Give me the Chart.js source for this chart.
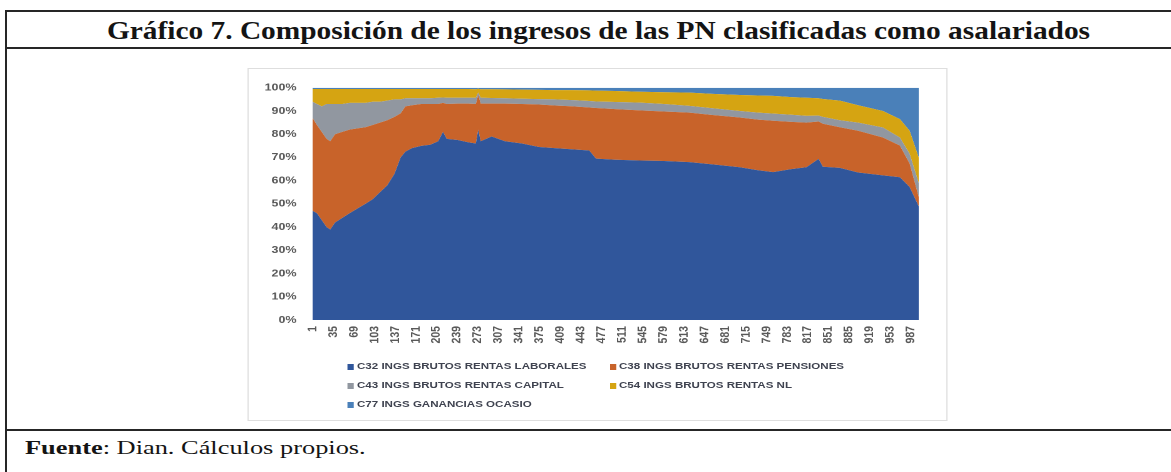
<!DOCTYPE html>
<html>
<head>
<meta charset="utf-8">
<script src="https://cdn.jsdelivr.net/npm/chart.js@4.4.1/dist/chart.umd.min.js"></script>
<style>
  html, body { margin:0; padding:0; background:#fff; width:1171px; height:472px; overflow:hidden; position:relative; }
  .line { position:absolute; background:#262626; }
  .fit { position:absolute; white-space:nowrap; display:inline-block; transform-origin:0 0; color:#141414; }
  #title { left:107px; top:17px; line-height:25px; font:bold 25px "Liberation Serif", "Times New Roman", serif; }
  #fuente { left:25px; top:438px; line-height:18px; font:18px "Liberation Serif", "Times New Roman", serif; }
  #stage { position:absolute; left:0; top:0; width:937px; height:472px; transform:scaleX(1.25); transform-origin:0 0; }
  #chartbox { position:absolute; left:198.4px; top:68px; width:559.2px; height:353px; border:1px solid #dedede; box-sizing:border-box; }
  #cwrap { position:absolute; left:0; top:0; width:557.2px; height:281px; }
  .lg { position:absolute; font:bold 9.25px "Liberation Sans", Arial, sans-serif; color:#3f4350; white-space:nowrap; line-height:11px; }
  .lg i { display:inline-block; width:4.8px; height:6px; margin-right:2.4px; vertical-align:-0.5px; }
</style>
</head>
<body>
<div class="line" style="left:5px; top:9.5px; width:1171px; height:2px;"></div>
<div class="line" style="left:5px; top:46.5px; width:1171px; height:2.5px;"></div>
<div class="line" style="left:5px; top:429px; width:1171px; height:2px;"></div>
<div class="line" style="left:5px; top:9.5px; width:2px; height:463px;"></div>
<span id="title" class="fit">Gráfico 7. Composición de los ingresos de las PN clasificadas como asalariados</span>
<span id="fuente" class="fit"><b>Fuente</b>: Dian. Cálculos propios.</span>
<div id="stage">
  <div id="chartbox"><div id="cwrap"><canvas id="c"></canvas></div></div>
  <div id="legend"></div>
</div>
<script>
// ---- data (share of each income type, %) ----
const positions = [1,8,16,24,30,38,50,62,75,88,100,112,124,136,146,154,165,180,195,208,216,222,240,258,270,274,278,296,318,346,374,400,430,457,468,500,540,580,622,660,705,735,760,790,815,835,842,870,900,941,969,985,1000];
const c32 = [47,46,43,40,39,42,44,46,48,50,52,55,58,63,70,72.5,74,75,75.5,77,81,78,77.5,76.5,76,82,77,79,77,76,74.5,74,73.5,73,69.5,69,68.7,68.5,68,67,65.8,64.5,63.7,65,65.8,69.4,66,65.5,63.5,62.3,61.5,57.3,49];
const c38 = [40,38,38,38,38,38,37,36,34.5,33,32,30,28,24.5,19,19.5,18.5,18,17.5,16,12.5,15,15.7,16.7,17,15,16.2,14.2,16.2,17,18.3,18.4,18.5,18.5,21.8,21.8,21.6,21.3,21.3,21.3,21.4,21.8,22.1,20.3,19.2,16.1,18.5,17.5,18,16.3,13.6,10.1,4];
const c43 = [7,9,11,15,16,13,12,11.5,11,10.5,10,9,8.5,7.5,6,3.5,3,2.5,2.5,2.7,2.3,2.7,2.5,2.5,2.7,1,2.5,2.4,2.3,2.3,2.3,2.6,2.7,2.8,2.8,3.1,3.3,3.2,2.9,2.9,2.8,3,3.1,3.1,2.9,2.5,3,3,3.5,4.3,3.5,4.2,6];
const c54 = [5.5,6.5,7.5,6.5,6.5,6.5,6.5,6,6,6,5.5,5.5,5,4.5,4.5,4,4,4,4,3.8,3.7,3.8,3.8,3.8,3.7,1.6,3.7,3.8,3.8,3.9,4,4,4.3,4.6,4.7,4.7,4.7,5.1,5.7,6.2,6.9,7.4,7.6,7.6,7.8,7.5,7.7,8.5,7.5,7.1,7.9,9.9,11];
const c77 = [0.5,0.5,0.5,0.5,0.5,0.5,0.5,0.5,0.5,0.5,0.5,0.5,0.5,0.5,0.5,0.5,0.5,0.5,0.5,0.5,0.5,0.5,0.5,0.5,0.6,0.4,0.6,0.6,0.7,0.8,0.9,1,1,1.1,1.2,1.4,1.7,1.9,2.1,2.6,3.1,3.3,3.5,4,4.3,4.5,4.8,5.5,7.5,10,13.5,18.5,30];
const seriesNames = ["C32 INGS BRUTOS RENTAS LABORALES","C38 INGS BRUTOS RENTAS PENSIONES","C43 INGS BRUTOS RENTAS CAPITAL","C54 INGS BRUTOS RENTAS NL","C77 INGS GANANCIAS OCASIO"];
const xTickLabels = [1,35,69,103,137,171,205,239,273,307,341,375,409,443,477,511,545,579,613,647,681,715,749,783,817,851,885,919,953,987];
const yTickLabels = [0,10,20,30,40,50,60,70,80,90,100];
// ----------------------------------------------------------------------
const colors = ["#30569b","#c8632a","#9197a0","#d5a412","#4a80b9"];
const seriesValues = [c32,c38,c43,c54,c77];

// fit document texts to the widths they take in the reference
function fitWidth(id, target) {
  const el = document.getElementById(id);
  const w = el.offsetWidth;
  el.style.transform = 'scaleX(' + (target / w) + ')';
}
fitWidth('title', 983);
fitWidth('fuente', 340);

const datasets = seriesValues.map((arr, k) => ({
  label: seriesNames[k],
  data: positions.map((x, i) => ({ x: x, y: arr[i] })),
  backgroundColor: colors[k],
  borderColor: colors[k],
  borderWidth: 0,
  pointRadius: 0,
  tension: 0,
  fill: k === 0 ? 'origin' : '-1'
}));

const yFont = { family: "'Liberation Sans', Arial, sans-serif", size: 10, weight: 'bold' };
const xFont = { family: "'Liberation Sans', Arial, sans-serif", size: 10.5, weight: 'bold' };

new Chart(document.getElementById('c'), {
  type: 'line',
  data: { datasets },
  options: {
    responsive: true,
    maintainAspectRatio: false,
    animation: false,
    devicePixelRatio: 2,
    layout: { padding: { left: 0, right: 22.2, top: 17, bottom: 0 } },
    plugins: { legend: { display: false }, tooltip: { enabled: false } },
    scales: {
      x: {
        type: 'linear', min: 1, max: 1000,
        grid: { display: false, drawTicks: false },
        border: { display: false },
        afterBuildTicks: s => { s.ticks = xTickLabels.map(v => ({ value: v })); },
        afterFit: s => { s.height = 30; },
        ticks: { autoSkip: false, minRotation: 90, maxRotation: 90, padding: 6, font: xFont, color: '#595959',
                 callback: v => String(v) }
      },
      y: {
        stacked: true, min: 0, max: 100,
        grid: { display: false, drawTicks: false },
        border: { display: false },
        afterBuildTicks: s => { s.ticks = yTickLabels.map(v => ({ value: v })); },
        afterFit: s => { s.width = 51; },
        ticks: { padding: 12.8, font: yFont, color: '#595959', callback: v => v + '%' }
      }
    }
  }
});

// legend laid out in two columns, as in the reference
const legendPos = [[278.4,361],[488,361],[278.4,380],[488,380],[278.4,399]];
const lg = document.getElementById('legend');
seriesNames.forEach((name, k) => {
  const d = document.createElement('div');
  d.className = 'lg';
  d.style.left = legendPos[k][0] + 'px';
  d.style.top = legendPos[k][1] + 'px';
  const m = document.createElement('i');
  m.style.background = colors[k];
  d.appendChild(m);
  d.appendChild(document.createTextNode(name));
  lg.appendChild(d);
});
</script>
</body>
</html>
